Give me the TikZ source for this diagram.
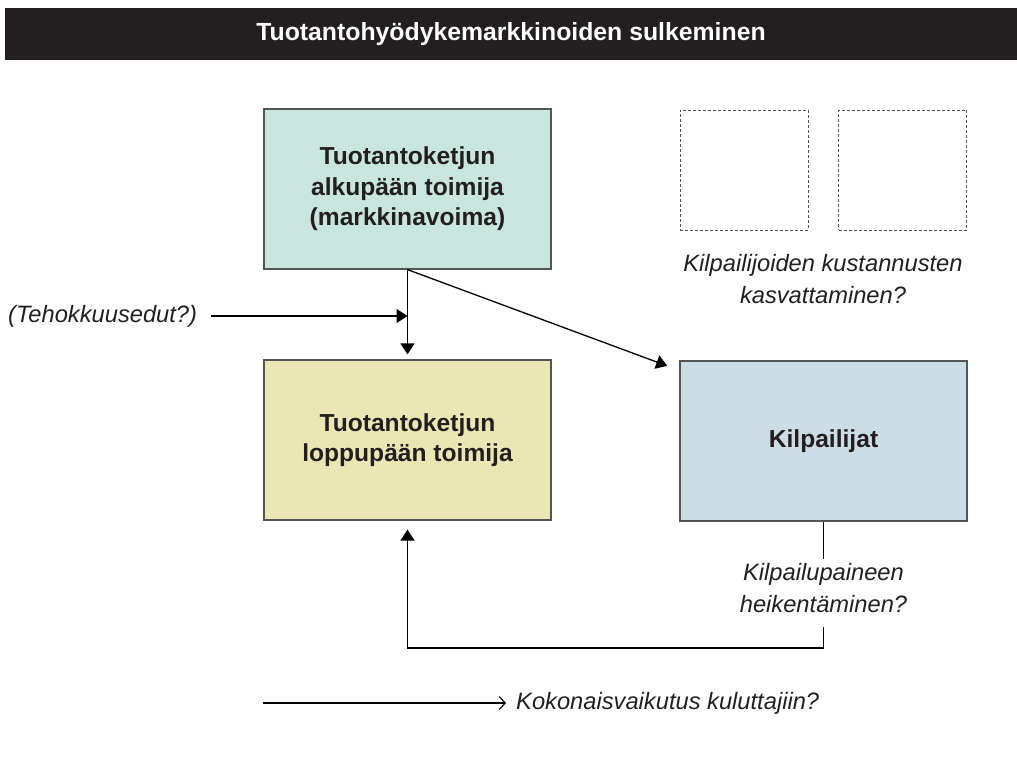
\documentclass[tikz,border=0pt]{standalone}
\usepackage{fontspec}
\setmainfont{Liberation Sans}
\usetikzlibrary{arrows.meta}
\definecolor{titlebg}{HTML}{231F20}
\definecolor{tealbox}{HTML}{C8E6DE}
\definecolor{yelbox}{HTML}{EAE7B4}
\definecolor{bluebox}{HTML}{CCDDE6}
\definecolor{edge}{HTML}{555555}
\definecolor{ink}{HTML}{231F20}
\tikzset{
  bigbox/.style={draw=edge, line width=1.2pt, minimum width=287pt, minimum height=160pt,
    inner sep=0pt, align=center, font=\fontsize{24.6}{30.5}\selectfont\bfseries, text=ink},
  dashbox/.style={draw=edge, line width=1pt, dash pattern=on 3pt off 2pt, minimum width=128pt,
    minimum height=120pt, inner sep=0pt},
  itlabel/.style={align=center, inner sep=0pt, font=\fontsize{23.7}{32}\selectfont\itshape, text=ink},
  arr/.style={draw=black, line width=1.3pt, -{Triangle[length=11pt,width=14pt]}},
  plainline/.style={draw=black, line width=1.3pt},
  openarr/.style={draw=black, line width=1.1pt, -{Straight Barb[length=6pt,width=13pt,line width=1.1pt]}}
}
\begin{document}
\begin{tikzpicture}[x=1pt,y=-1pt]
\useasboundingbox (0,0) rectangle (1017,756);
% title bar
\fill[titlebg] (5,8) rectangle (1017,60);
\node[text=white, font=\fontsize{24.8}{28}\selectfont\bfseries] (title) at (511,34) {Tuotantohyödykemarkkinoiden sulkeminen};
% main boxes
\node[bigbox, fill=tealbox] (up) at (407.5,189) {Tuotantoketjun\\alkupään toimija\\(markkinavoima)};
\node[bigbox, fill=yelbox] (down) at (407.5,440) {Tuotantoketjun\\loppupään toimija};
\node[bigbox, fill=bluebox] (comp) at (823.5,441) {Kilpailijat};
% dashed boxes
\node[dashbox] (d1) at (744,170) {};
\node[dashbox] (d2) at (902.5,170) {};
\node[itlabel] (costs) at (823,279) {Kilpailijoiden kustannusten\\kasvattaminen?};
% efficiency
\node[itlabel, anchor=west] (eff) at (8,316) {(Tehokkuusedut?)};
\coordinate (effend) at (eff -| up.south);
\draw[arr] ([xshift=14pt]eff.east) -- (effend);
% arrows from upstream
\draw[arr, shorten >=5pt] (up.south) -- (down.north);
\draw[arr, shorten >=13pt] (up.south) -- ([yshift=-10pt]comp.north west);
% competitive pressure
\node[itlabel] (press) at (823.5,588) {Kilpailupaineen\\heikentäminen?};
\draw[plainline] (comp.south) -- ([yshift=4pt]press.north);
\coordinate (fb) at (823.5,648);
\draw[arr, shorten >=9pt] ([yshift=-14pt]press.south) -- (fb) -| (down.south);
% consumers
\coordinate (cs) at (263,703);
\node[itlabel, anchor=west, inner xsep=10pt] (cons) at (506,703) {Kokonaisvaikutus kuluttajiin?};
\draw[openarr] (cs) -- (cons.west);
\end{tikzpicture}
\end{document}
